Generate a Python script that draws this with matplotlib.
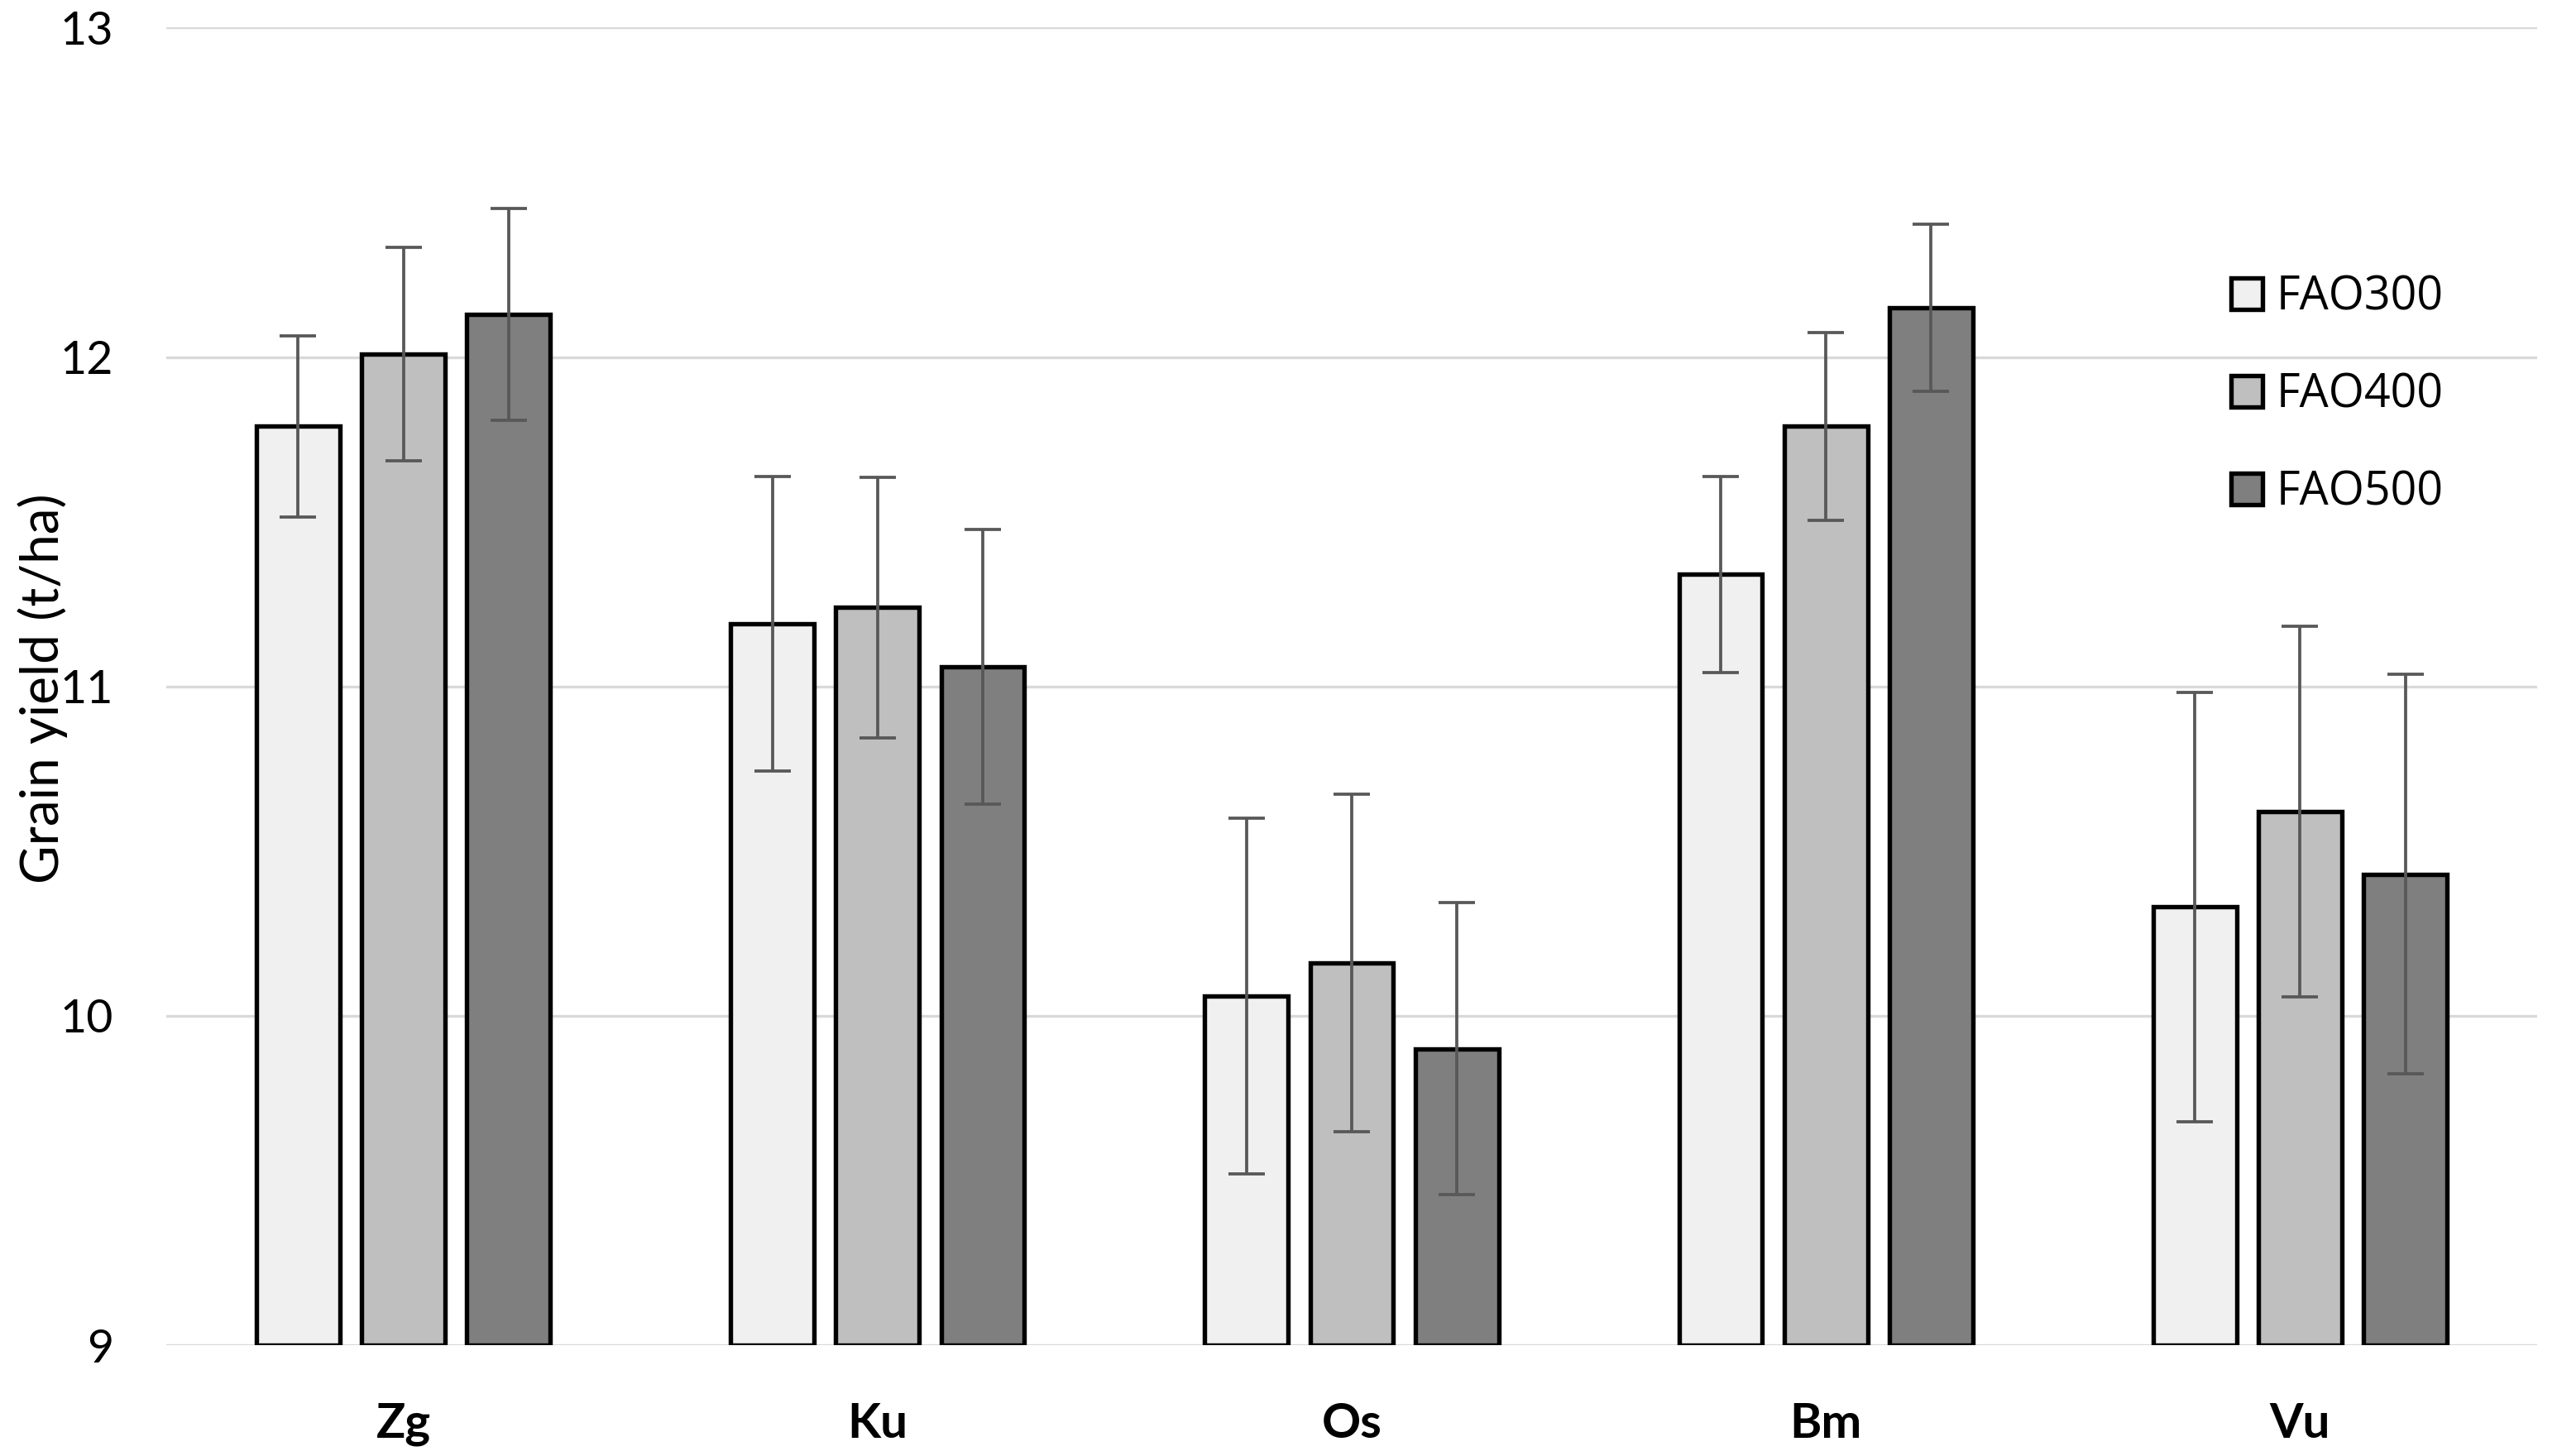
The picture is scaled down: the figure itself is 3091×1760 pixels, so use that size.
import matplotlib
matplotlib.use("Agg")
import matplotlib.pyplot as plt
import numpy as np

categories = ["Zg", "Ku", "Os", "Bm", "Vu"]
series = ["FAO300", "FAO400", "FAO500"]
fao300 = [11.79, 11.19, 10.06, 11.34, 10.33]
fao400 = [12.01, 11.24, 10.16, 11.79, 10.62]
fao500 = [12.13, 11.06, 9.90, 12.15, 10.43]
err300 = [0.275, 0.448, 0.54, 0.297, 0.651]
err400 = [0.324, 0.396, 0.512, 0.285, 0.563]
err500 = [0.321, 0.417, 0.444, 0.254, 0.607]
yticks = [9, 10, 11, 12, 13]

colors = ["#f0f0f0", "#bfbfbf", "#7f7f7f"]
values = [fao300, fao400, fao500]
errors = [err300, err400, err500]

W, H = 3091, 1760
fig = plt.figure(figsize=(W / 100, H / 100), dpi=100)
left, right = 201 / W, 3067 / W
bottom, top = (H - 1626) / H, 1 - 33.5 / H
ax = fig.add_axes([left, bottom, right - left, top - bottom])

x = np.arange(len(categories))
width = 0.176
offsets = [-0.222, 0.0, 0.222]
base = 9
for vals, errs, col, off, name in zip(values, errors, colors, offsets, series):
    heights = [v - base for v in vals]
    ax.bar(x + off, heights, width, bottom=base, color=col, edgecolor="black",
           linewidth=3.9, label=name, zorder=3)
    ax.errorbar(x + off, vals, yerr=errs, fmt="none", ecolor="#585858",
                elinewidth=2.7, capsize=16, capthick=2.7, zorder=4)

ax.set_xlim(-0.5, len(categories) - 0.5)
ax.set_ylim(9, 13)
ax.set_yticks(yticks)
ax.set_yticklabels([str(t) for t in yticks], fontfamily="Lato", fontsize=40)
ax.set_xticks(x)
ax.set_xticklabels(categories, fontfamily="Lato", fontweight="bold", fontsize=42)
ax.tick_params(axis="y", length=0, pad=46)
ax.tick_params(axis="x", length=0, pad=50)
ax.yaxis.grid(True, color="#d9d9d9", linewidth=2.4, zorder=0)
ax.set_axisbelow(True)
for s in ax.spines.values():
    s.set_visible(False)

fig.text(52 / W, 1 - 832 / H, "Grain yield (t/ha)", rotation=90, ha="center",
         va="center", fontfamily="Lato", fontsize=46)

leg = ax.legend(loc="center left", bbox_to_anchor=(2697 / W, 1 - 478 / H),
                bbox_transform=fig.transFigure, frameon=False,
                prop={"family": "Open Sans", "size": 40},
                handlelength=0.68, handleheight=0.68, handletextpad=0.3,
                labelspacing=1.1, borderpad=0, borderaxespad=0)
for h in leg.legend_handles:
    h.set_linewidth(3.9)

fig.savefig("out.png", dpi=100, facecolor="white")
